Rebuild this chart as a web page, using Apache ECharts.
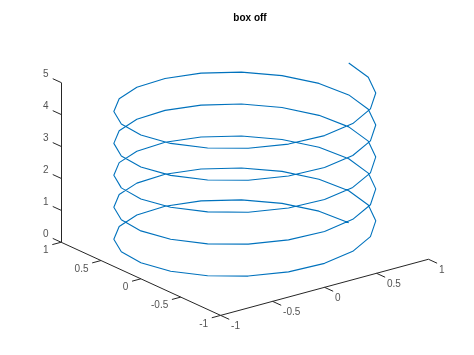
<!DOCTYPE html>
<html>
<head>
<meta charset="utf-8">
<script src="https://cdn.jsdelivr.net/npm/echarts@6/dist/echarts.min.js"></script>
<style>
html,body{margin:0;padding:0;background:#fff;}
#chart{width:474px;height:355px;}
</style>
</head>
<body>
<div id="chart"></div>
<script>
// ---- data (helix sampled every pi/10, 5 turns) ----
const helixX = [
 1, 0.951, 0.809, 0.588, 0.309, 0, -0.309, -0.588, -0.809, -0.951, -1, -0.951, -0.809, -0.588, -0.309, 0, 0.309, 0.588, 0.809, 0.951,
 1, 0.951, 0.809, 0.588, 0.309, 0, -0.309, -0.588, -0.809, -0.951, -1, -0.951, -0.809, -0.588, -0.309, 0, 0.309, 0.588, 0.809, 0.951,
 1, 0.951, 0.809, 0.588, 0.309, 0, -0.309, -0.588, -0.809, -0.951, -1, -0.951, -0.809, -0.588, -0.309, 0, 0.309, 0.588, 0.809, 0.951,
 1, 0.951, 0.809, 0.588, 0.309, 0, -0.309, -0.588, -0.809, -0.951, -1, -0.951, -0.809, -0.588, -0.309, 0, 0.309, 0.588, 0.809, 0.951,
 1, 0.951, 0.809, 0.588, 0.309, 0, -0.309, -0.588, -0.809, -0.951, -1, -0.951, -0.809, -0.588, -0.309, 0, 0.309, 0.588, 0.809, 0.951,
 1
];
const helixY = [
 0, 0.309, 0.588, 0.809, 0.951, 1, 0.951, 0.809, 0.588, 0.309, 0, -0.309, -0.588, -0.809, -0.951, -1, -0.951, -0.809, -0.588, -0.309,
 0, 0.309, 0.588, 0.809, 0.951, 1, 0.951, 0.809, 0.588, 0.309, 0, -0.309, -0.588, -0.809, -0.951, -1, -0.951, -0.809, -0.588, -0.309,
 0, 0.309, 0.588, 0.809, 0.951, 1, 0.951, 0.809, 0.588, 0.309, 0, -0.309, -0.588, -0.809, -0.951, -1, -0.951, -0.809, -0.588, -0.309,
 0, 0.309, 0.588, 0.809, 0.951, 1, 0.951, 0.809, 0.588, 0.309, 0, -0.309, -0.588, -0.809, -0.951, -1, -0.951, -0.809, -0.588, -0.309,
 0, 0.309, 0.588, 0.809, 0.951, 1, 0.951, 0.809, 0.588, 0.309, 0, -0.309, -0.588, -0.809, -0.951, -1, -0.951, -0.809, -0.588, -0.309,
 0
];
const helixZ = [
 0, 0.05, 0.1, 0.15, 0.2, 0.25, 0.3, 0.35, 0.4, 0.45, 0.5, 0.55, 0.6, 0.65, 0.7, 0.75, 0.8, 0.85, 0.9, 0.95,
 1, 1.05, 1.1, 1.15, 1.2, 1.25, 1.3, 1.35, 1.4, 1.45, 1.5, 1.55, 1.6, 1.65, 1.7, 1.75, 1.8, 1.85, 1.9, 1.95,
 2, 2.05, 2.1, 2.15, 2.2, 2.25, 2.3, 2.35, 2.4, 2.45, 2.5, 2.55, 2.6, 2.65, 2.7, 2.75, 2.8, 2.85, 2.9, 2.95,
 3, 3.05, 3.1, 3.15, 3.2, 3.25, 3.3, 3.35, 3.4, 3.45, 3.5, 3.55, 3.6, 3.65, 3.7, 3.75, 3.8, 3.85, 3.9, 3.95,
 4, 4.05, 4.1, 4.15, 4.2, 4.25, 4.3, 4.35, 4.4, 4.45, 4.5, 4.55, 4.6, 4.65, 4.7, 4.75, 4.8, 4.85, 4.9, 4.95,
 5
];
const xTicks = [-1, -0.5, 0, 0.5, 1];
const yTicks = [-1, -0.5, 0, 0.5, 1];
const zTicks = [0, 1, 2, 3, 4, 5];
const xTickLabels = ['-1', '-0.5', '0', '0.5', '1'];
const yTickLabels = ['-1', '-0.5', '0', '0.5', '1'];
const zTickLabels = ['0', '1', '2', '3', '4', '5'];
const xLim = [-1, 1];
const yLim = [-1, 1];
const zLim = [0, 5];
const titleText = 'box off';

// ---- view (MATLAB default 3-D view) ----
const AZ = -37.5 * Math.PI / 180;
const EL = 30 * Math.PI / 180;
const cA = Math.cos(AZ), sA = Math.sin(AZ), cE = Math.cos(EL), sE = Math.sin(EL);
function proj(x, y, z) {
  const u = (x - (xLim[0] + xLim[1]) / 2) / ((xLim[1] - xLim[0]) / 2);
  const v = (y - (yLim[0] + yLim[1]) / 2) / ((yLim[1] - yLim[0]) / 2);
  const w = (z - (zLim[0] + zLim[1]) / 2) / ((zLim[1] - zLim[0]) / 2);
  return [cA * u + sA * v, -sE * sA * u + sE * cA * v + cE * w];
}
// screen mapping of projected coordinates
const W = 474, H = 355;
const CX = 244.8, CY = 170.9, SX = 131, SY = 92.2;

const AXC = '#262626';
const helixData = helixX.map((x, i) => proj(x, helixY[i], helixZ[i]));

const yFront = yLim[0], xLeft = xLim[0], yBack = yLim[1];
const axisLines = [
  {coords: [proj(xLim[0], yFront, zLim[0]), proj(xLim[1], yFront, zLim[0])]},
  {coords: [proj(xLeft, yLim[0], zLim[0]), proj(xLeft, yLim[1], zLim[0])]},
  {coords: [proj(xLeft, yBack, zLim[0]), proj(xLeft, yBack, zLim[1])]}
];
const tX = 0.108 * (yLim[1] - yLim[0]) / 2;
const tY = 0.085 * (xLim[1] - xLim[0]) / 2;
const tZ = 0.105 * (yLim[1] - yLim[0]) / 2;
const tickLines = [];
xTicks.forEach(t => tickLines.push({coords: [proj(t, yFront, zLim[0]), proj(t, yFront - tX, zLim[0])]}));
yTicks.forEach(t => tickLines.push({coords: [proj(xLeft, t, zLim[0]), proj(xLeft - tY, t, zLim[0])]}));
zTicks.forEach(t => tickLines.push({coords: [proj(xLeft, yBack, t), proj(xLeft, yBack + tZ, t)]}));

const labelFont = {fontFamily: 'Liberation Sans, Arial, sans-serif', fontSize: 10, color: AXC};
function labelSeries(ticks, labels, pt, dx, dy, align) {
  return {
    type: 'scatter', symbolSize: 0, silent: true, z: 5,
    data: ticks.map((t, i) => ({value: pt(t), name: labels[i]})),
    label: Object.assign({show: true, formatter: p => p.name, position: [dx, dy],
      align: align, verticalAlign: 'middle'}, labelFont)
  };
}

const chart = echarts.init(document.getElementById('chart'), null, {renderer: 'canvas'});
chart.setOption({
  animation: false,
  backgroundColor: '#ffffff',
  title: {
    text: titleText, left: 245, top: 8, textAlign: 'center',
    textStyle: {fontFamily: 'Liberation Sans, Arial, sans-serif', fontSize: 10, fontWeight: 'bold', color: '#000'}
  },
  grid: {left: 0, right: 0, top: 0, bottom: 0, containLabel: false},
  xAxis: {type: 'value', min: -CX / SX, max: (W - CX) / SX, show: false},
  yAxis: {type: 'value', min: (CY - H) / SY, max: CY / SY, show: false},
  series: [
    {type: 'lines', coordinateSystem: 'cartesian2d', silent: true, z: 3,
     lineStyle: {color: AXC, width: 1, opacity: 1}, data: axisLines},
    {type: 'lines', coordinateSystem: 'cartesian2d', silent: true, z: 3,
     lineStyle: {color: AXC, width: 1, opacity: 1}, data: tickLines},
    {type: 'line', data: helixData, showSymbol: false, symbol: 'none', z: 4,
     lineStyle: {color: '#0072BD', width: 1.1}},
    labelSeries(xTicks, xTickLabels, t => proj(t, yFront, zLim[0]), 10.5, 11, 'left'),
    labelSeries(yTicks, yTickLabels, t => proj(xLeft, t, zLim[0]), -12.5, 8.5, 'right'),
    labelSeries(zTicks, zTickLabels, t => proj(xLeft, yBack, t), -12.5, -8.3, 'right')
  ]
});
</script>
</body>
</html>
